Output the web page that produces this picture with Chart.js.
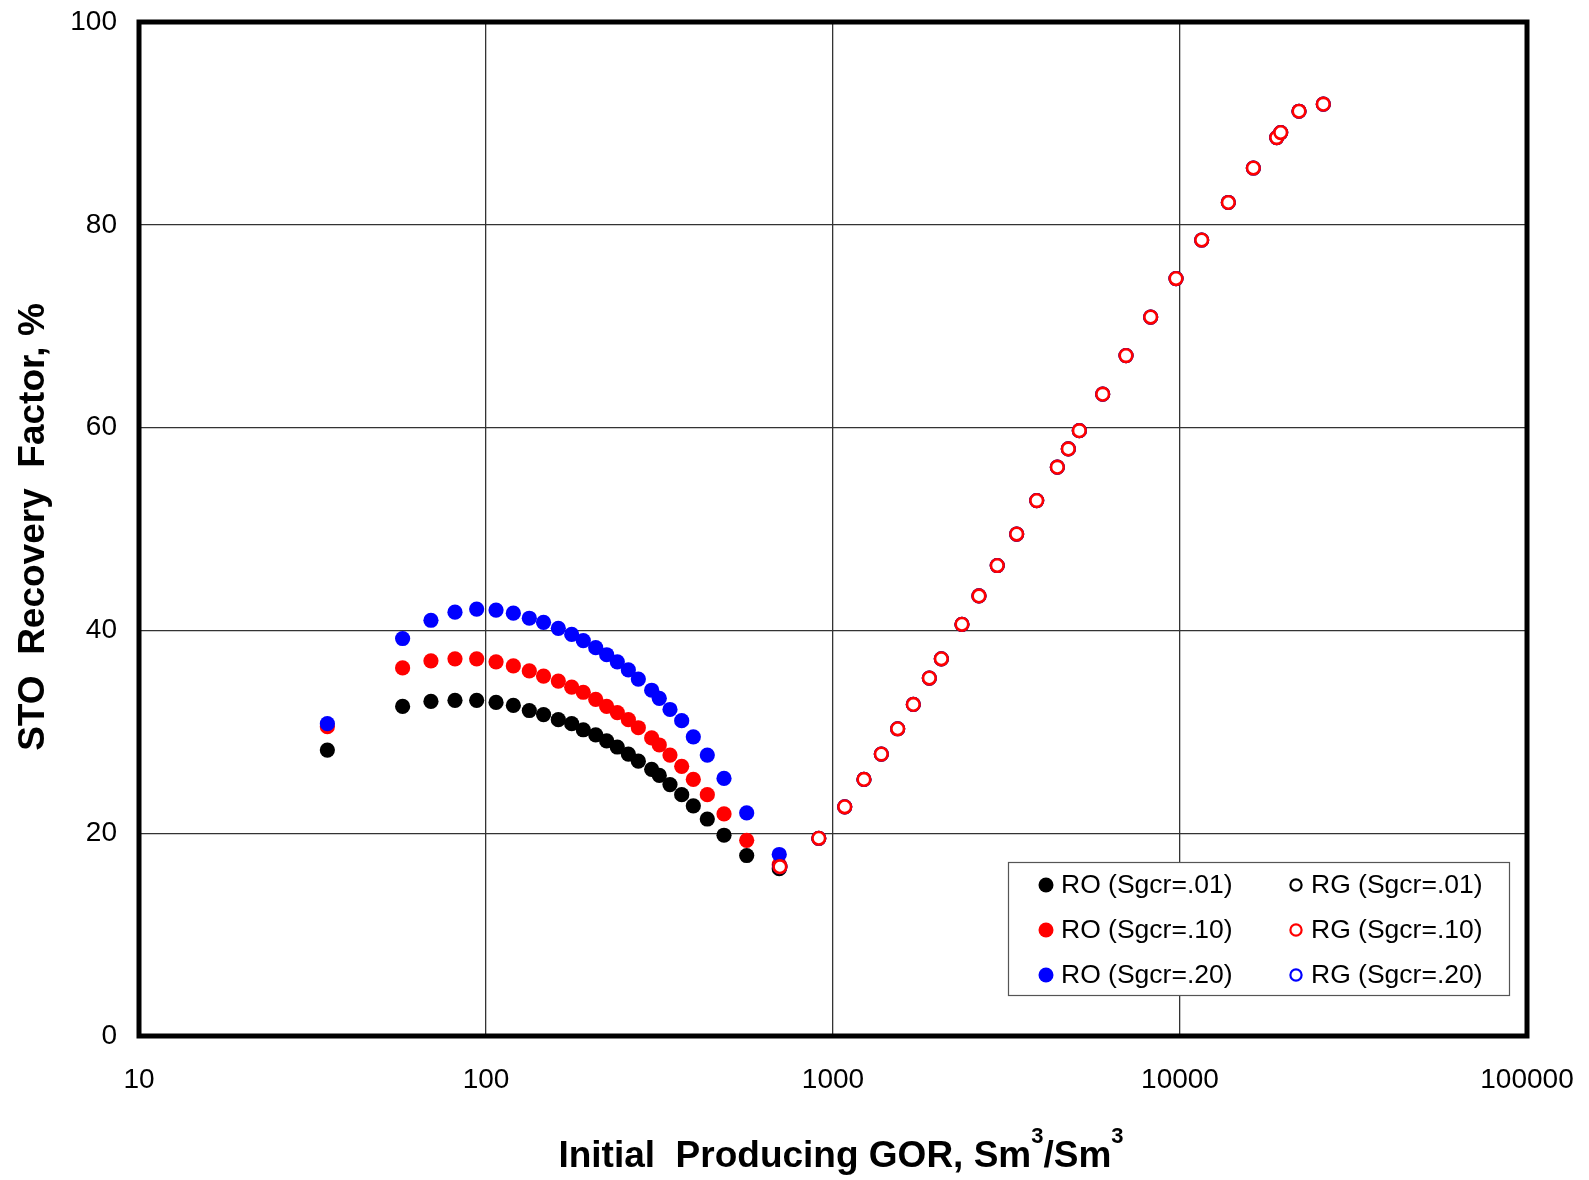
<!DOCTYPE html>
<html>
<head>
<meta charset="utf-8">
<script src="https://cdn.jsdelivr.net/npm/chart.js@4.4.0/dist/chart.umd.min.js"></script>
<style>
    html, body { margin: 0; padding: 0; background: #fff; }
    #wrap { width: 1589px; height: 1180px; }
</style>
</head>
<body>
<div id="wrap"><canvas id="rfChart" width="1589" height="1180"></canvas></div>
<script>
// Oil recovery (RO) vs initial producing GOR, one curve per critical gas saturation
const gorRO = [34.9, 57.5, 69.4, 81.4, 94.0, 106.9, 119.9, 133.3, 146.5, 161.6, 176.6, 190.7, 207.1,
               222.7, 239, 257.2, 274.8, 300.2, 315.8, 339, 366.4, 395.8, 434.3, 485.2, 564, 700];
const roSgcr01 = [28.2, 32.5, 33.0, 33.1, 33.1, 32.9, 32.6, 32.1, 31.7, 31.2, 30.8, 30.2, 29.7,
                  29.1, 28.5, 27.8, 27.1, 26.3, 25.7, 24.8, 23.8, 22.7, 21.4, 19.8, 17.8, 16.5];
const roSgcr10 = [30.5, 36.3, 37.0, 37.2, 37.2, 36.9, 36.5, 36.0, 35.5, 35.0, 34.4, 33.9, 33.2,
                  32.5, 31.9, 31.2, 30.4, 29.4, 28.7, 27.7, 26.6, 25.3, 23.8, 21.9, 19.3, 16.9];
const roSgcr20 = [30.8, 39.2, 41.0, 41.8, 42.1, 42.0, 41.7, 41.2, 40.8, 40.2, 39.6, 39.0, 38.3,
                  37.6, 36.9, 36.1, 35.2, 34.1, 33.3, 32.2, 31.1, 29.5, 27.7, 25.4, 22.0, 17.9];

// Gas-condensate recovery (RG); the three Sgcr cases fall on the same points
const gorRG = [703, 910, 1081, 1228, 1378, 1536, 1704, 1895, 2052, 2353, 2634, 2974, 3383, 3864,
               4431, 4766, 5127, 5987, 6989, 8231, 9739, 11547, 13781, 16270, 18996, 19508, 22027, 25882];
const rgRecovery = [16.7, 19.5, 22.6, 25.3, 27.8, 30.3, 32.7, 35.3, 37.2, 40.6, 43.4, 46.4, 49.5, 52.8,
                    56.1, 57.9, 59.7, 63.3, 67.1, 70.9, 74.7, 78.5, 82.2, 85.6, 88.6, 89.1, 91.2, 91.9];

const xTicks = [10, 100, 1000, 10000, 100000];
const yTicks = [0, 20, 40, 60, 80, 100];

const FONT = "'Liberation Sans', Arial, Helvetica, sans-serif";

function pairs(xs, ys) {
    return xs.map((x, i) => ({ x: x, y: ys[i] }));
}

function solid(label, color, ys, order) {
    return {
        label: label, data: pairs(gorRO, ys), order: order,
        pointRadius: 7.6, pointBorderWidth: 0,
        pointBackgroundColor: color, pointBorderColor: color,
        borderColor: color, backgroundColor: color, filled: true
    };
}

function hollow(label, color, ys, order) {
    return {
        label: label, data: pairs(gorRG, ys), order: order,
        pointRadius: 6.3, pointBorderWidth: 2.6,
        pointBackgroundColor: '#fff', pointBorderColor: color,
        borderColor: color, backgroundColor: '#fff', filled: false
    };
}

// lower order is painted on top
const datasets = [
    solid('RO (Sgcr=.01)', '#000000', roSgcr01, 5),
    solid('RO (Sgcr=.10)', '#ff0000', roSgcr10, 4),
    solid('RO (Sgcr=.20)', '#0000ff', roSgcr20, 3),
    hollow('RG (Sgcr=.01)', '#000000', rgRecovery, 2),
    hollow('RG (Sgcr=.20)', '#0000ff', rgRecovery, 1),
    hollow('RG (Sgcr=.10)', '#ff0000', rgRecovery, 0)
];

// thick box round the plotting area
const framePlugin = {
    id: 'frame',
    afterDatasetsDraw(chart) {
        const { ctx, chartArea: a } = chart;
        ctx.save();
        ctx.strokeStyle = '#000';
        ctx.lineWidth = 5;
        ctx.strokeRect(a.left, a.top, a.right - a.left, a.bottom - a.top);
        ctx.restore();
    }
};

// bold axis titles, centred on the origin, with real superscripts
function drawRuns(ctx, runs) {
    const big = 'bold 37px ' + FONT, small = 'bold 22px ' + FONT;
    let total = 0;
    runs.forEach(r => { ctx.font = r.sup ? small : big; total += ctx.measureText(r.t).width; });
    let x = -total / 2;
    runs.forEach(r => {
        ctx.font = r.sup ? small : big;
        ctx.fillText(r.t, x, r.sup ? -24 : 0);
        x += ctx.measureText(r.t).width;
    });
}

const axisTitles = {
    id: 'axisTitles',
    afterDraw(chart) {
        const { ctx, chartArea: a } = chart;
        const cx = (a.left + a.right) / 2 + 8;
        const cy = (a.top + a.bottom) / 2 - 2;
        ctx.save();
        ctx.fillStyle = '#000';
        ctx.textBaseline = 'alphabetic';
        ctx.textAlign = 'left';

        ctx.save();
        ctx.translate(cx, a.bottom + 131);
        drawRuns(ctx, [
            { t: 'Initial  Producing GOR, Sm' }, { t: '3', sup: true },
            { t: '/Sm' }, { t: '3', sup: true }
        ]);
        ctx.restore();

        ctx.save();
        ctx.translate(a.left - 95, cy);
        ctx.rotate(-Math.PI / 2);
        drawRuns(ctx, [{ t: 'STO  Recovery  Factor, %' }]);
        ctx.restore();

        ctx.restore();
    }
};

// two-column legend box in the lower right corner
const boxLegend = {
    id: 'boxLegend',
    afterDraw(chart) {
        const { ctx, chartArea: a } = chart;
        const w = 501, h = 133;
        const bx = a.right - 18 - w, by = a.bottom - 41 - h;
        ctx.save();
        ctx.fillStyle = '#fff';
        ctx.fillRect(bx, by, w, h);
        ctx.strokeStyle = '#555';
        ctx.lineWidth = 1.2;
        ctx.strokeRect(bx + 0.5, by + 0.5, w, h);

        const order = ['RO (Sgcr=.01)', 'RO (Sgcr=.10)', 'RO (Sgcr=.20)',
                       'RG (Sgcr=.01)', 'RG (Sgcr=.10)', 'RG (Sgcr=.20)'];
        ctx.font = '26.5px ' + FONT;
        ctx.textBaseline = 'middle';
        ctx.textAlign = 'left';
        order.forEach((name, i) => {
            const ds = chart.data.datasets.find(d => d.label === name);
            const col = Math.floor(i / 3), row = i % 3;
            const mx = bx + 38 + col * 250;
            const my = by + 23 + row * 45;
            ctx.beginPath();
            if (ds.filled) {
                ctx.arc(mx, my, 7.5, 0, Math.PI * 2);
                ctx.fillStyle = ds.pointBackgroundColor;
                ctx.fill();
            } else {
                ctx.arc(mx, my, 5.6, 0, Math.PI * 2);
                ctx.fillStyle = '#fff';
                ctx.fill();
                ctx.lineWidth = 2.2;
                ctx.strokeStyle = ds.pointBorderColor;
                ctx.stroke();
            }
            ctx.fillStyle = '#000';
            ctx.fillText(ds.label, mx + 15, my + 1);
        });
        ctx.restore();
    }
};

const ctx = document.getElementById('rfChart').getContext('2d');
const rfChart = new Chart(ctx, {
    type: 'scatter',
    data: { datasets: datasets },
    options: {
        responsive: false,
        animation: false,
        layout: { padding: { top: 22, right: 62, bottom: 0, left: 0 } },
        plugins: {
            legend: { display: false },
            tooltip: { enabled: false }
        },
        scales: {
            x: {
                type: 'logarithmic',
                min: 10,
                max: 100000,
                afterBuildTicks: scale => {
                    scale.ticks = xTicks.map(v => ({ value: v, major: true }));
                },
                afterFit: scale => {
                    scale.height = 144;
                    scale.paddingLeft = 0;
                    scale.paddingRight = 0;
                },
                ticks: {
                    color: '#000',
                    padding: 27,
                    maxRotation: 0,
                    font: { family: FONT, size: 28 },
                    callback: v => String(v)
                },
                grid: { color: '#333', lineWidth: 1.3, drawTicks: false },
                border: { display: false }
            },
            y: {
                min: 0,
                max: 100,
                afterBuildTicks: scale => {
                    scale.ticks = yTicks.map(v => ({ value: v }));
                },
                afterFit: scale => {
                    scale.width = 139;
                    scale.paddingTop = 0;
                    scale.paddingBottom = 0;
                },
                ticks: {
                    color: '#000',
                    padding: 22,
                    font: { family: FONT, size: 28 }
                },
                grid: { color: '#333', lineWidth: 1.3, drawTicks: false },
                border: { display: false }
            }
        }
    },
    plugins: [framePlugin, axisTitles, boxLegend]
});
</script>
</body>
</html>
